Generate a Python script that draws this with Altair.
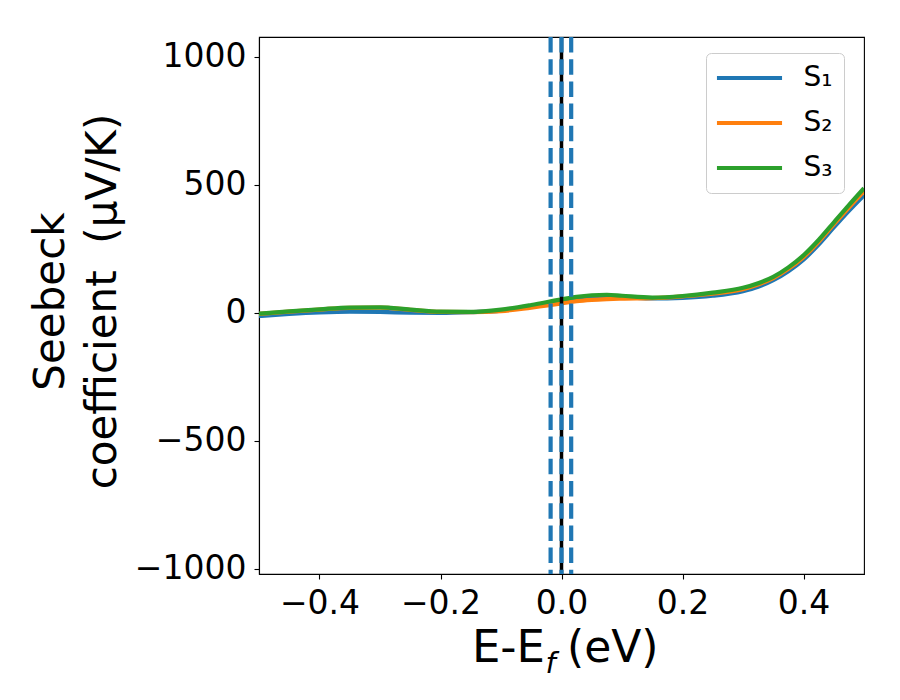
import altair as alt
import pandas as pd

# ---- data ----
energy = [-0.5, -0.45, -0.4, -0.35, -0.3, -0.25, -0.2, -0.15, -0.1, -0.05, 0.0,
          0.025, 0.05, 0.075, 0.1, 0.15, 0.2, 0.25, 0.3, 0.325, 0.35, 0.375,
          0.4, 0.425, 0.45, 0.475, 0.5]
s1 = [-13, -5, 1, 4, 3, 0, -1, 2, 8, 26, 44, 52, 58, 60, 60, 56, 58, 66, 84, 101,
      127, 162, 207, 266, 333, 398, 459]
s2 = [-5, 4, 12, 19, 20, 11, 3, 2, 6, 20, 36, 45, 50, 53, 55, 57, 64, 74, 92, 110,
      135, 171, 217, 277, 345, 411, 475]
s3 = [-4, 5, 13, 20, 21, 12, 4, 3, 12, 30, 52, 62, 68, 70, 66, 59, 65, 78, 97, 115,
      140, 177, 224, 284, 352, 420, 486]

series_names = ["S\u2081", "S\u2082", "S\u2083"]
series_colors = ["#1f77b4", "#ff7f0e", "#2ca02c"]

fermi_level = [0.0]
dashed_positions = [-0.018, 0.0, 0.016]

x_ticks = [-0.4, -0.2, 0.0, 0.2, 0.4]
y_ticks = [-1000, -500, 0, 500, 1000]
x_domain = [-0.5, 0.5]
y_domain = [-1021, 1077]

y_title = ["Seebeck\u00a0", "\u00a0coefficient \u00a0(\u03bcV/K)"]
x_title_main = ["E-E"]
x_title_sub = ["f"]
x_title_unit = ["(eV)"]

FONT = "DejaVu Sans"
W, H = 605, 537

rows = []
for name, vals in zip(series_names, [s1, s2, s3]):
    for e, v in zip(energy, vals):
        rows.append({"E": e, "S": v, "series": name})
df = pd.DataFrame(rows)

xscale = alt.Scale(domain=x_domain, nice=False, zero=False)
yscale = alt.Scale(domain=y_domain, nice=False, zero=False)

x_axis = alt.Axis(values=x_ticks, format=".1f", title=None, grid=False,
                  labelFontSize=33, labelFont=FONT, labelColor="black",
                  tickColor="black", tickSize=5, tickWidth=1.1,
                  domainColor="black", domainWidth=1.1, labelPadding=8,
                  labelFlush=False)
y_axis = alt.Axis(values=y_ticks, format="d", title=y_title, grid=False,
                  labelFontSize=33, labelFont=FONT, labelColor="black",
                  tickColor="black", tickSize=5, tickWidth=1.1,
                  domainColor="black", domainWidth=1.1, labelPadding=8,
                  labelFlush=False,
                  titleFont=FONT, titleFontSize=42, titleFontWeight="normal",
                  titleColor="black", titleAngle=270, titleAlign="center",
                  titleBaseline="alphabetic", titleX=-196, titleY=264,
                  titleLineHeight=52)

legend = alt.Legend(title=None, orient="none", legendX=447, legendY=16,
                    symbolType="M-2.83,0H2.83", symbolSize=529,
                    symbolStrokeWidth=4.2, symbolOffset=18.5,
                    labelFontSize=28, labelFont=FONT, labelColor="black",
                    strokeColor="#cccccc", cornerRadius=5,
                    fillColor="white", padding=11,
                    rowPadding=17, labelOffset=40)

lines = alt.Chart(df).mark_line(strokeWidth=4.2, interpolate="monotone", clip=True).encode(
    x=alt.X("E:Q", scale=xscale, axis=x_axis),
    y=alt.Y("S:Q", scale=yscale, axis=y_axis),
    color=alt.Color("series:N",
                    scale=alt.Scale(domain=series_names, range=series_colors),
                    legend=legend),
)

black_line = alt.Chart(pd.DataFrame({"E": fermi_level})).mark_rule(
    color="black", strokeWidth=3.5).encode(x=alt.X("E:Q", scale=xscale))

dashed = alt.Chart(pd.DataFrame({"E": dashed_positions})).mark_rule(
    color="#1f77b4", strokeWidth=4.2, strokeDash=[15.5, 6.7]).encode(
    x=alt.X("E:Q", scale=xscale))

t_main = alt.Chart(pd.DataFrame({"t": x_title_main})).mark_text(
    font=FONT, fontSize=45, align="right", baseline="alphabetic", color="black").encode(
    text="t:N", x=alt.value(286), y=alt.value(625))
t_sub = alt.Chart(pd.DataFrame({"t": x_title_sub})).mark_text(
    font=FONT, fontSize=29, fontStyle="italic", align="left", baseline="alphabetic",
    color="black").encode(text="t:N", x=alt.value(286.5), y=alt.value(636))
t_unit = alt.Chart(pd.DataFrame({"t": x_title_unit})).mark_text(
    font=FONT, fontSize=44, align="left", baseline="alphabetic", color="black").encode(
    text="t:N", x=alt.value(308), y=alt.value(625))

chart = alt.layer(lines, black_line, dashed, t_main, t_sub, t_unit).properties(
    width=W, height=H, autosize="none", background="white",
    padding={"left": 251, "top": 29, "right": 28, "bottom": 126},
).configure_view(stroke="black", strokeWidth=1.1)

chart.save("out.html", embed_options={"renderer": "svg", "actions": False})
